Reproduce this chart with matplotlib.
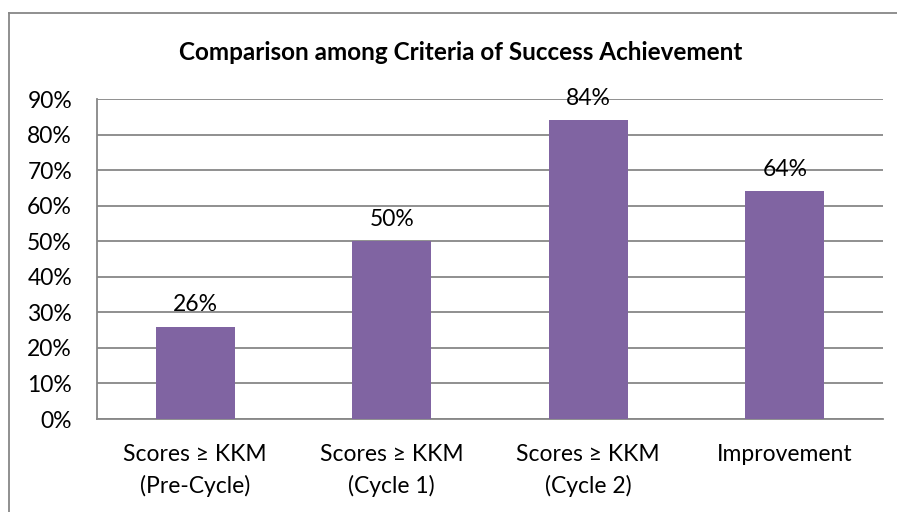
import matplotlib.pyplot as plt
from matplotlib.ticker import FuncFormatter

categories = ["Scores ≥ KKM\n(Pre-Cycle)", "Scores ≥ KKM\n(Cycle 1)",
              "Scores ≥ KKM\n(Cycle 2)", "Improvement"]
values = [26, 50, 84, 64]
y_ticks = [0, 10, 20, 30, 40, 50, 60, 70, 80, 90]

plt.rcParams['font.family'] = ['Lato', 'DejaVu Sans']

W, H = 897, 512
fig = plt.figure(figsize=(W / 100, H / 100), dpi=100)
fig.patch.set_facecolor("white")

# plot area in pixel coords
left, right, top, bottom = 97, 883, 99, 419
ax = fig.add_axes([left / W, 1 - bottom / H, (right - left) / W, (bottom - top) / H])

x = range(len(categories))
ax.bar(x, values, width=0.40, color="#8064A2", zorder=3)
for xi, v in zip(x, values):
    ax.annotate(f"{v}%", (xi, v), xytext=(0, 8), textcoords="offset points",
                ha="center", va="bottom", fontsize=16.5, color="#000000")

ax.set_xlim(-0.5, len(categories) - 0.5)
ax.set_ylim(0, 90)
ax.set_yticks(y_ticks)
ax.yaxis.set_major_formatter(FuncFormatter(lambda v, p: f"{int(v)}%"))
ax.set_xticks(list(x))
ax.set_xticklabels(categories, fontsize=16.5, linespacing=1.55)
ax.tick_params(axis="y", labelsize=16.5, length=0, pad=18)
ax.tick_params(axis="x", length=0, pad=18)
ax.grid(axis="y", color="#878787", linewidth=1.3, zorder=0)
for s in ["top", "right"]:
    ax.spines[s].set_visible(False)
ax.spines["left"].set_color("#878787")
ax.spines["bottom"].set_color("#878787")
ax.spines["left"].set_linewidth(1.3)
ax.spines["bottom"].set_linewidth(1.3)

fig.text(461 / W, 1 - 52 / H, "Comparison among Criteria of Success Achievement",
         ha="center", va="center", fontsize=17.5, fontweight="bold")

# outer chart border (only top and left visible in crop)
fig.add_artist(plt.Line2D([9 / W, 9 / W], [0, 1 - 13 / H], transform=fig.transFigure,
                          color="#878787", linewidth=1.3))
fig.add_artist(plt.Line2D([9 / W, 1], [1 - 13 / H, 1 - 13 / H], transform=fig.transFigure,
                          color="#878787", linewidth=1.3))

fig.savefig("out.png", dpi=100)
